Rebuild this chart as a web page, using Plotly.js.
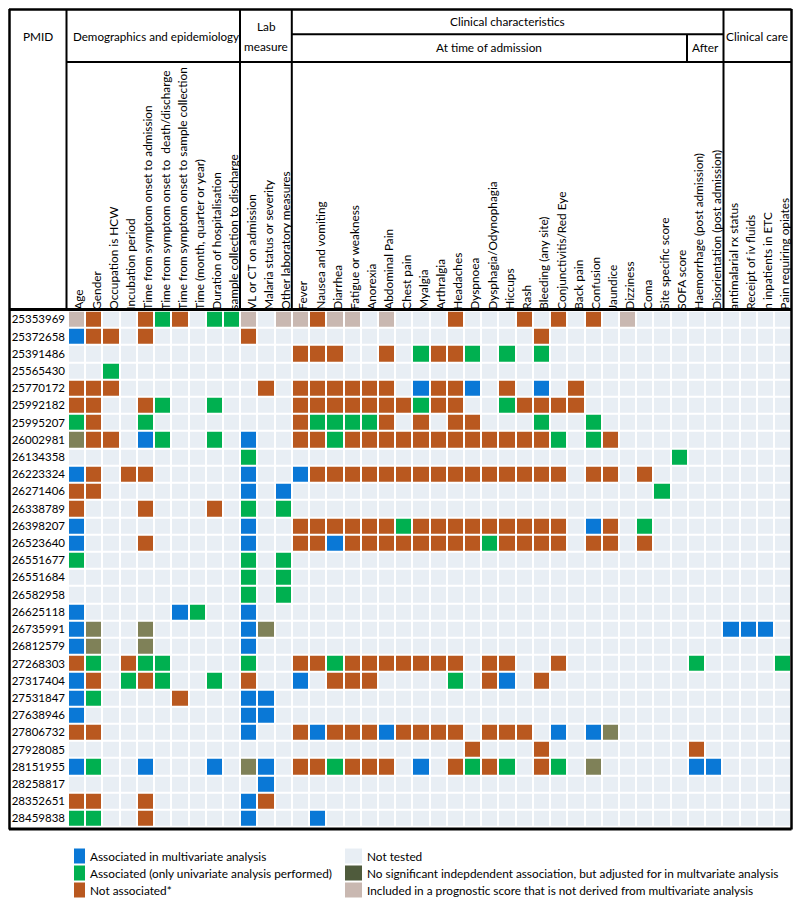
<!DOCTYPE html>
<html><head><meta charset="utf-8">
<script src="https://cdn.plot.ly/plotly-3.0.1.min.js"></script>
<style>html,body{margin:0;padding:0;background:#fff}#chart{width:800px;height:907px}</style>
</head><body><div id="chart"></div>
<script>
const columnLabels = ["Age","Gender","Occupation is HCW","Incubation period","Time from symptom onset to admission","Time from symptom onset to  death/discharge","Time from symptom onset to sample collection","Time (month, quarter or year)","Duration of hospitalisation","sample collection to discharge","VL or CT on admission","Malaria status or severity","Other laboratory measures","Fever","Nausea and vomiting","Diarrhea","Fatigue or weakness","Anorexia","Abdominal Pain","Chest pain","Myalgia","Arthralgia","Headaches","Dyspnoea","Dysphagia/Odynophagia","Hiccups","Rash","Bleeding (any site)","Conjunctivitis/Red Eye","Back pain","Confusion","Jaundice","Dizziness","Coma","Site specific score","SOFA score","Haemorrhage (post admission)","Disorientation (post admission)","antimalarial rx status","Receipt of iv fluids","n inpatients in ETC","Pain requiring opiates"];

const pmids = ["25353969","25372658","25391486","25565430","25770172","25992182","25995207","26002981","26134358","26223324","26271406","26338789","26398207","26523640","26551677","26551684","26582958","26625118","26735991","26812579","27268303","27317404","27531847","27638946","27806732","27928085","28151955","28258817","28352651","28459838"];

// 0 not tested, 1 multivariate, 2 univariate only, 3 not associated, 4 adjusted (n.s.), 5 prognostic score
const status = [
 [5,3,0,0,3,2,3,0,2,2, 5,0,5, 5,3,5,5,0,5,0,0,0,3,0,0,0,3,0,3,0,3,0,5,0,0,0, 0,0, 0,0,0,0],
 [1,3,3,0,3,0,0,0,0,0, 3,0,0, 0,0,0,0,0,0,0,0,0,0,0,0,0,0,3,0,0,0,0,0,0,0,0, 0,0, 0,0,0,0],
 [0,0,0,0,0,0,0,0,0,0, 0,0,0, 3,3,3,0,0,3,0,2,3,3,2,0,2,0,2,0,0,0,0,0,0,0,0, 0,0, 0,0,0,0],
 [0,0,2,0,0,0,0,0,0,0, 0,0,0, 0,0,0,0,0,0,0,0,0,0,0,0,0,0,0,0,0,0,0,0,0,0,0, 0,0, 0,0,0,0],
 [3,3,3,0,0,0,0,0,0,0, 0,3,0, 3,3,3,3,3,3,0,1,3,3,1,0,3,0,1,0,3,0,0,0,0,0,0, 0,0, 0,0,0,0],
 [3,3,0,0,3,2,0,0,2,0, 0,0,0, 3,3,3,3,3,3,3,2,3,3,0,0,2,3,3,3,3,0,0,0,0,0,0, 0,0, 0,0,0,0],
 [2,3,0,0,2,0,0,0,0,0, 0,0,0, 3,2,2,2,2,3,0,3,0,3,3,0,0,0,2,0,0,2,0,0,0,0,0, 0,0, 0,0,0,0],
 [4,3,3,0,1,2,0,0,2,0, 1,0,0, 3,3,2,3,3,3,3,3,3,3,3,3,3,3,3,2,0,2,3,0,0,0,0, 0,0, 0,0,0,0],
 [0,0,0,0,0,0,0,0,0,0, 2,0,0, 0,0,0,0,0,0,0,0,0,0,0,0,0,0,0,0,0,0,0,0,0,0,2, 0,0, 0,0,0,0],
 [1,3,0,3,3,0,0,0,0,0, 1,0,0, 1,3,3,3,3,3,3,3,3,3,3,3,3,3,3,3,0,3,3,0,3,0,0, 0,0, 0,0,0,0],
 [3,3,0,0,0,0,0,0,0,0, 1,0,1, 0,0,0,0,0,0,0,0,0,0,0,0,0,0,0,0,0,0,0,0,0,2,0, 0,0, 0,0,0,0],
 [3,0,0,0,3,0,0,0,3,0, 2,0,2, 0,0,0,0,0,0,0,0,0,0,0,0,0,0,0,0,0,0,0,0,0,0,0, 0,0, 0,0,0,0],
 [1,0,0,0,0,0,0,0,0,0, 1,0,0, 3,3,3,3,3,3,2,3,3,3,3,3,3,3,3,3,0,1,3,0,2,0,0, 0,0, 0,0,0,0],
 [1,0,0,0,3,0,0,0,0,0, 1,0,0, 3,3,1,3,3,3,3,3,3,3,3,2,3,3,3,3,0,3,3,0,3,0,0, 0,0, 0,0,0,0],
 [2,0,0,0,0,0,0,0,0,0, 2,0,2, 0,0,0,0,0,0,0,0,0,0,0,0,0,0,0,0,0,0,0,0,0,0,0, 0,0, 0,0,0,0],
 [0,0,0,0,0,0,0,0,0,0, 2,0,2, 0,0,0,0,0,0,0,0,0,0,0,0,0,0,0,0,0,0,0,0,0,0,0, 0,0, 0,0,0,0],
 [0,0,0,0,0,0,0,0,0,0, 2,0,2, 0,0,0,0,0,0,0,0,0,0,0,0,0,0,0,0,0,0,0,0,0,0,0, 0,0, 0,0,0,0],
 [1,0,0,0,0,0,1,2,0,0, 1,0,0, 0,0,0,0,0,0,0,0,0,0,0,0,0,0,0,0,0,0,0,0,0,0,0, 0,0, 0,0,0,0],
 [1,4,0,0,4,0,0,0,0,0, 1,4,0, 0,0,0,0,0,0,0,0,0,0,0,0,0,0,0,0,0,0,0,0,0,0,0, 0,0, 1,1,1,0],
 [1,4,0,0,4,0,0,0,0,0, 1,0,0, 0,0,0,0,0,0,0,0,0,0,0,0,0,0,0,0,0,0,0,0,0,0,0, 0,0, 0,0,0,0],
 [3,2,0,3,2,2,0,0,0,0, 2,0,0, 3,3,2,3,3,3,3,3,3,3,0,3,3,0,0,3,0,0,0,0,0,0,0, 2,0, 0,0,0,2],
 [1,3,0,2,3,2,0,0,2,0, 3,0,0, 1,0,3,3,3,0,0,0,0,2,0,3,1,0,3,0,0,0,0,0,0,0,0, 0,0, 0,0,0,0],
 [1,2,0,0,0,0,3,0,0,0, 1,1,0, 0,0,0,0,0,0,0,0,0,0,0,0,0,0,0,0,0,0,0,0,0,0,0, 0,0, 0,0,0,0],
 [1,0,0,0,0,0,0,0,0,0, 1,1,0, 0,0,0,0,0,0,0,0,0,0,0,0,0,0,0,0,0,0,0,0,0,0,0, 0,0, 0,0,0,0],
 [3,3,0,0,0,0,0,0,0,0, 1,0,0, 3,1,3,3,3,1,3,3,3,3,0,3,3,3,0,1,0,1,4,0,0,0,0, 0,0, 0,0,0,0],
 [0,0,0,0,0,0,0,0,0,0, 0,0,0, 0,0,0,0,0,0,0,0,0,0,3,0,0,0,3,0,0,0,0,0,0,0,0, 3,0, 0,0,0,0],
 [1,2,0,0,1,0,0,0,1,0, 4,1,0, 3,3,2,3,3,3,0,1,0,3,2,3,2,0,3,2,0,4,0,0,0,0,0, 1,1, 0,0,0,0],
 [0,0,0,0,0,0,0,0,0,0, 0,1,0, 0,0,0,0,0,0,0,0,0,0,0,0,0,0,0,0,0,0,0,0,0,0,0, 0,0, 0,0,0,0],
 [3,3,0,0,3,0,0,0,0,0, 1,3,0, 0,0,0,0,0,0,0,0,0,0,0,0,0,0,0,0,0,0,0,0,0,0,0, 0,0, 0,0,0,0],
 [2,2,0,0,3,0,0,0,0,0, 1,0,0, 0,1,0,0,0,0,0,0,0,0,0,0,0,0,0,0,0,0,0,0,0,0,0, 0,0, 0,0,0,0]
];

const statusColors = ["#e8eef4","#0a78d6","#00b050","#b9581f","#7f8158","#c9b8b1"];
const legendLeft = ["Associated in multivariate analysis","Associated (only univariate analysis performed)","Not associated*"];
const legendLeftColors = ["#0a78d6","#00b050","#b9581f"];
const legendRight = ["Not tested","No significant indepdendent association, but adjusted for in multvariate analysis","Included in a prognostic score that is not derived from multivariate analysis"];
const legendRightColors = ["#e8eef4","#4f5b3c","#c9b8b1"];

const W = 800, H = 907;
const px = x => x / W;
const py = y => 1 - y / H;
const FONT = "Lato, 'Open Sans', sans-serif";

const cs = [];
statusColors.forEach((c, i) => {
  const a = i === 0 ? 0 : (i - 0.5) / 5, b = i === 5 ? 1 : (i + 0.5) / 5;
  cs.push([a, c]); cs.push([b, c]);
});

const trace = {
  type: 'heatmap', x: columnLabels, y: pmids, z: status,
  zmin: 0, zmax: 5, colorscale: cs, showscale: false,
  xgap: 2, ygap: 2, hoverinfo: 'x+y+z'
};

const shapes = [];
const line = (x0, y0, x1, y1, w) => shapes.push({type: 'line', xref: 'paper', yref: 'paper',
  x0: px(x0), y0: py(y0), x1: px(x1), y1: py(y1), line: {color: '#000', width: w}, layer: 'above'});
// outer frame
line(9, 9.5, 791.5, 9.5, 2.5);
line(9, 829, 791.5, 829, 3);
line(9.5, 9, 9.5, 829.5, 2.5);
line(791.5, 9, 791.5, 829.5, 2.5);
// header/grid separator
line(9, 309.5, 791.5, 309.5, 3);
// header verticals
line(66.5, 9, 66.5, 309, 2);
line(240, 9, 240, 309, 2);
line(291.8, 9, 291.8, 309, 2);
line(723.5, 9, 723.5, 309, 2);
line(687, 34.3, 687, 62, 2);
// header horizontals
line(66.5, 62, 791.5, 62, 2);
line(291.8, 34.3, 723.5, 34.3, 2);

const annotations = [];
const txt = (t, x, y, anchor, size) => annotations.push({text: t, xref: 'paper', yref: 'paper',
  x: px(x), y: py(y), xanchor: anchor, yanchor: 'middle', showarrow: false,
  font: {family: FONT, size: size, color: '#000'}});
txt('PMID', 38, 37, 'center', 11.8);
txt('Demographics and epidemiology', 71, 37, 'left', 11.6);
txt('Lab', 266, 27, 'center', 11.8);
txt('measure', 266, 46, 'center', 11.8);
txt('Clinical characteristics', 507, 21, 'center', 11.8);
txt('At time of admission', 489, 48, 'center', 11.8);
txt('After', 705, 48, 'center', 11.8);
txt('Clinical care', 757, 36, 'center', 11.8);

const legY = [856, 873, 890];
legendLeft.forEach((t, i) => {
  shapes.push({type: 'rect', xref: 'paper', yref: 'paper', x0: px(74), x1: px(85),
    y0: py(legY[i] - 7.5), y1: py(legY[i] + 7.5), fillcolor: legendLeftColors[i], line: {width: 0}});
  txt(t, 88, legY[i], 'left', 11.8);
});
legendRight.forEach((t, i) => {
  shapes.push({type: 'rect', xref: 'paper', yref: 'paper', x0: px(345), x1: px(362),
    y0: py(legY[i] - 7.5), y1: py(legY[i] + 7.5), fillcolor: legendRightColors[i], line: {width: 0}});
  txt(t, 365, legY[i], 'left', 11.8);
});

const layout = {
  width: W, height: H, margin: {l: 0, r: 0, t: 0, b: 0},
  paper_bgcolor: '#fff', plot_bgcolor: '#fff',
  font: {family: FONT, color: '#000'},
  xaxis: {type: 'category', domain: [px(68), px(791.2)], range: [-0.5, columnLabels.length - 0.5],
    side: 'top', tickangle: -90, tickmode: 'array', tickvals: columnLabels, ticktext: columnLabels,
    ticks: '', showgrid: false, zeroline: false, showline: false, automargin: false,
    ticklabelshift: 3,
    tickfont: {family: FONT, size: 11.8, color: '#000'}, fixedrange: true},
  yaxis: {type: 'category', domain: [py(827), py(310.7)], range: [pmids.length - 0.5, -0.5],
    tickmode: 'array', tickvals: pmids, ticktext: pmids, ticklabelstandoff: 2,
    ticks: '', showgrid: false, zeroline: false, showline: false, automargin: false,
    tickfont: {family: FONT, size: 11.5, color: '#000'}, fixedrange: true},
  shapes: shapes, annotations: annotations, showlegend: false
};

Plotly.newPlot('chart', [trace], layout, {displayModeBar: false, staticPlot: true});
</script></body></html>
